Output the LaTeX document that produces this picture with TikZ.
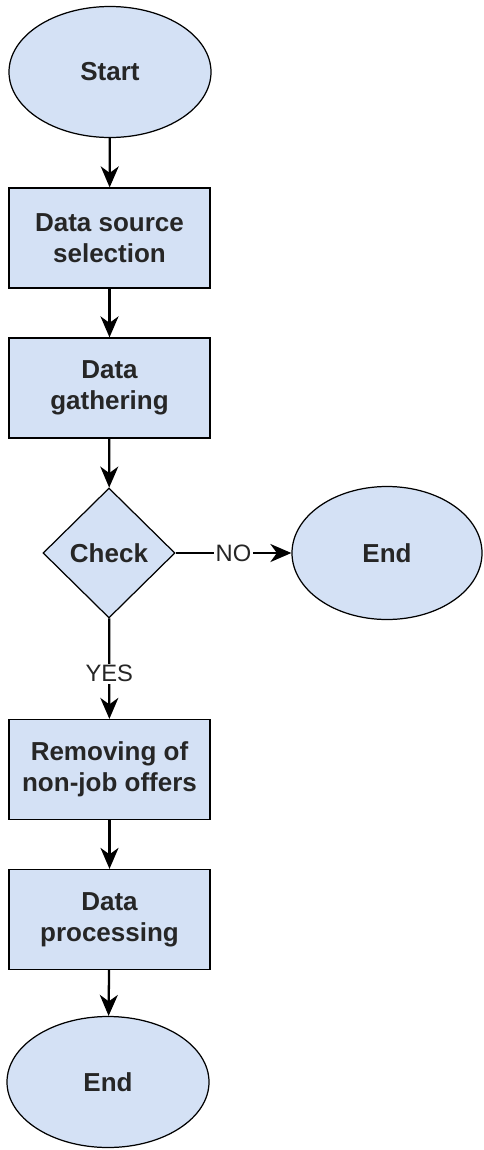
\documentclass[tikz,border=0pt]{standalone}
\usepackage{fontspec}
\setmainfont{Liberation Sans}
\usepackage{xcolor}
\usetikzlibrary{arrows.meta,shapes.geometric}

\definecolor{boxblue}{HTML}{D4E1F5}

\begin{document}
\begin{tikzpicture}[>={Stealth[length=4.2mm,width=3.6mm,inset=1.3mm]},
    every node/.style={font=\fontsize{14.8}{17.6}\selectfont\bfseries, text=black!85},
    terminal/.style={ellipse, draw, fill=boxblue, line width=0.7pt, minimum width=4.04cm, minimum height=2.62cm},
    stepbox/.style={rectangle, draw, fill=boxblue, line width=0.7pt, minimum width=4.02cm, minimum height=2cm, align=center},
    decision/.style={diamond, draw, fill=boxblue, line width=0.7pt, minimum width=2.64cm, minimum height=2.6cm, inner sep=0pt},
    flow/.style={->, line width=1.3pt},
    tag/.style={fill=white, inner sep=1pt, font=\fontsize{13.5}{15}\selectfont}]
    \useasboundingbox (0,0) rectangle (9.66,-23);

    \node[terminal] (start) at (2.2,-1.44) {Start};
    \node[stepbox] (source) at (2.19,-4.76) {Data source\\selection};
    \node[stepbox] (gather) at (2.19,-7.76) {Data\\gathering};
    \node[decision] (check) at (2.18,-11.06) {Check};
    \node[terminal, minimum width=3.8cm, minimum height=2.66cm] (endno) at (7.74,-11.06) {End};
    \node[stepbox] (remove) at (2.19,-15.39) {Removing of\\non-job offers};
    \node[stepbox] (process) at (2.19,-18.39) {Data\\processing};
    \node[terminal] (finish) at (2.16,-21.64) {End};

    \draw[flow] (start) -- (source);
    \draw[flow] (source) -- (gather);
    \draw[flow] (gather) -- (check);
    \draw[flow] (check) -- node[tag] {NO} (endno);
    \draw[flow] (check) -- node[tag, pos=0.55] {YES} (remove);
    \draw[flow] (remove) -- (process);
    \draw[flow] (process) -- (finish);
\end{tikzpicture}
\end{document}
